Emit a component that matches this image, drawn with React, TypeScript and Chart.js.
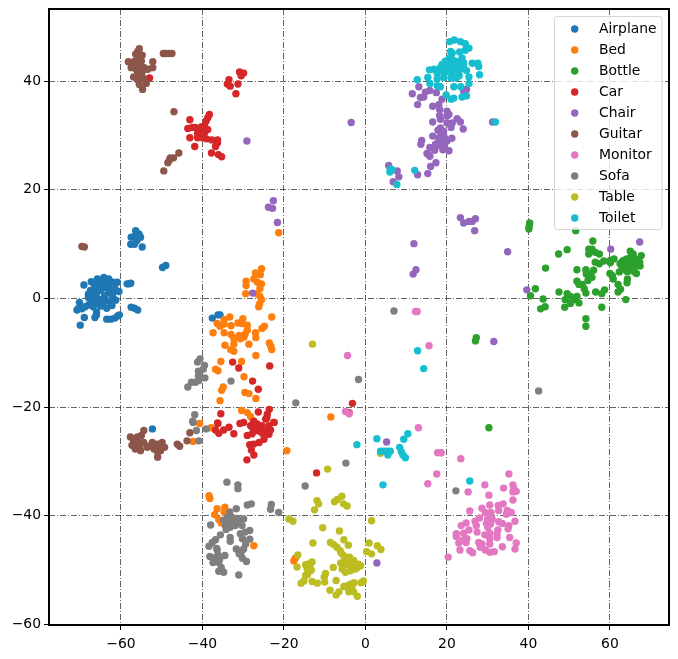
import { useEffect, useRef } from "react"
import { Chart, registerables } from "chart.js"

Chart.register(...registerables)

type Pt = [number, number]

const labels = ["Airplane", "Bed", "Bottle", "Car", "Chair", "Guitar", "Monitor", "Sofa", "Table", "Toilet"]
const colors = ["#1f77b4", "#ff7f0e", "#2ca02c", "#d62728", "#9467bd", "#8c564b", "#e377c2", "#7f7f7f", "#bcbd22", "#17becf"]
const xTicks = [-60, -40, -20, 0, 20, 40, 60]
const yTicks = [-60, -40, -20, 0, 20, 40]

const airplane: Pt[] = [
  [-69.1, 2.5], [-67.3, 3.1], [-65.8, 3.6], [-64.2, 3.9], [-63.5, 3.2], [-64.8, 2.8], [-66, 2], [-67.5, 1.5], [-68, 0.8], [-66.5, 0.7],
  [-65, 1.5], [-64, 2], [-63, 2.5], [-62, 3], [-60.9, 3], [-61.5, 1.8], [-62.8, 1], [-64, 0.5], [-65.5, -0.1], [-67, -0.3],
  [-68, 0.2], [-66, -0.8], [-64.5, -0.3], [-63, -0.5], [-62, 0.2], [-60.5, 1.3], [-58.5, 2.7], [-58, 2.7], [-57.6, 2.8], [-61.3, -0.3],
  [-70.2, -0.7], [-70.4, -1.8], [-70.8, -2.1], [-69.6, -1.9], [-68.8, -1.5], [-67.5, -1], [-65, -1.4], [-63.5, -1.8], [-62.2, -1.3], [-66, -2.5],
  [-66, -3], [-66.4, -3.5], [-69, -3.5], [-70, -4.9], [-63.5, -3.8], [-62.5, -3.8], [-61.5, -3.6], [-60.8, -3.2], [-60.4, -3],
  [-66.5, 2.5], [-65, 3], [-63, 1.5], [-66, 1], [-64.5, -1], [-67.5, 0.2], [-68, -1.2], [-63, 3.6], [-62, 1], [-66.8, -1.5],
  [-56.4, 12.5], [-55.6, 11.9], [-55.2, 11.3], [-57.5, 11.3], [-57.6, 10], [-56.7, 10], [-54.8, 9.5], [-56.1, 10.7], [-56.5, 11.5], [-56, 11],
  [-49, 6.1], [-49.8, 5.7], [-57.5, -1.6], [-56.7, -1.8], [-55.9, -2.1], [-37.6, -3.6], [-36.2, -3], [-35.7, -3], [-52.3, -24],
]

const bed: Pt[] = [
  [-21.3, 12.1], [-25.5, 5.5], [-27, 4.7], [-25.8, 4.4], [-27.4, 3.6], [-29.3, 3.2], [-29.3, 2.4], [-26.5, 3], [-25.5, 2.7], [-25.9, 1.8],
  [-29.4, 0.9], [-26.6, 0.9], [-25.9, 0.4], [-25.5, -0.2], [-26, -1], [-26.2, -1.5], [-23, -3.4], [-33.3, -3.4], [-34.7, -3.9], [-36.4, -4.6],
  [-35.7, -5.1], [-34.7, -4.7], [-33, -5], [-31.3, -4.5], [-30.1, -3.7], [-30.3, -4.6], [-29, -4.9], [-29, -5.8], [-24.8, -5.1], [-25.4, -5.5],
  [-37.4, -6.3], [-34.7, -6.3], [-33, -6.6], [-31, -6.8], [-29.5, -6.5], [-27, -6.3], [-26.9, -7.2], [-32.3, -7.4], [-30.7, -7.4], [-31.5, -7.2],
  [-29.8, -7.1], [-32.3, -8.4], [-28.6, -8.4], [-34.5, -8.6], [-33.1, -9.4], [-32.3, -9.7], [-23.6, -8.2], [-23.2, -8.8], [-23, -9.4], [-26.9, -10.5],
  [-35.5, -11.6], [-30.4, -11.6], [-36.8, -13], [-36.2, -13.3], [-29.8, -14.4], [-34.9, -16.3], [-35.3, -16.9], [-29.6, -17.3], [-28.6, -17.5], [-26.9, -18.4],
  [-35.7, -18.8], [-30.4, -20.6], [-29, -21], [-28.2, -21.7], [-27.6, -22.5], [-40.7, -23], [-37.9, -23.8], [-42.3, -26.3], [-19.3, -28], [-38.4, -36.3],
  [-38.2, -36.8], [-34.5, -38.4], [-34.7, -39.3], [-36.4, -38.7], [-37, -39.8], [-36, -40.7], [-35.4, -41.3], [-27.4, -45.5], [-17.6, -48.3], [-17.2, -47.8],
  [-8.5, -21.8],
]

const bottle: Pt[] = [
  [40.3, 13.9], [40.2, 13.3], [40.1, 12.8], [51.6, 12.5], [55.8, 10.6], [49.5, 9], [47.4, 8.2], [54.8, 9.1], [55.6, 9.1], [54.8, 8.2],
  [56.4, 8.5], [57.4, 8.2], [56.4, 6.7], [57.4, 6.4], [58.5, 6.9], [60.1, 7], [61, 7.3], [60.1, 6.6], [65, 8.7], [65.5, 8.2],
  [67.7, 7.9], [44.2, 5.6], [51.9, 5.3], [54.1, 5.3], [56, 5.2], [55.2, 4.5], [54.2, 4.5], [54.8, 3.9], [55.6, 3.9], [54.6, 3.3],
  [60, 4.6], [60.6, 4.2], [60.8, 3.6], [62.3, 4.9], [51.9, 3.2], [52.4, 2.6], [53.2, 2.6], [53.7, 1.8], [54.1, 1], [64.3, 3.6],
  [64.2, 2.9], [62, 2.6], [62.6, 1.7], [62, 1.2], [41.7, 1.8], [40.5, 0.5], [43.6, -0.1], [44.1, -1.5], [43, -1.9], [47.5, 1.2],
  [49.5, 0.9], [50.3, 0.4], [49, -0.2], [50.3, -0.9], [51.9, 0.4], [51.5, -0.2], [52.4, -0.8], [48.9, -1.6], [56.5, 1.2], [58.7, 1.6],
  [58, 0.9], [58, -1.6], [63.9, -0.2], [54.1, -3.7], [54.1, -5.1], [27.2, -7.2], [27, -7.8], [30.3, -23.8], [62.5, 6.4], [63.3, 7],
  [64.1, 7.3], [65.7, 8.2], [66.2, 7.3], [67.3, 6.7], [67.4, 6], [64.5, 5.8], [63.7, 6], [64.9, 6.7], [63, 6.8], [65.3, 6],
  [64.1, 5], [66.1, 4.9], [66.5, 4.6], [65, 5.3], [63, 5.6], [64.5, 6.2], [65.5, 7], [64, 6.5], [66, 6], [65, 7.5], [64.5, 5],
]

const car: Pt[] = [
  [-53, 40.6], [-30.9, 41.7], [-29.9, 41.5], [-30.5, 41], [-33.5, 40.3], [-31.3, 39.5], [-33.9, 39.5], [-33.2, 39.1], [-31.8, 37.7],
  [-38.3, 33.9], [-38.7, 33.3], [-39.1, 32.7], [-39.5, 31.8], [-43.1, 32.9], [-43.6, 31.3], [-42.5, 31.5], [-41.8, 31.5], [-40.8, 30.8], [-40.3, 31.6], [-41.2, 30.4],
  [-39.5, 30.5], [-38.7, 31.1], [-41.2, 29.6], [-40, 29.6], [-39, 29.4], [-37.7, 29.2], [-36.3, 29.2], [-36.3, 28.7], [-43.1, 29.6], [-41.9, 28],
  [-36.8, 28], [-37.8, 26.8], [-36.1, 26.5], [-35.3, 26.1], [-32.6, -11.7], [-31.1, -12.8], [-23.5, -12.4], [-27.7, -15.2], [-26.3, -16.7], [-23.6, -20.4],
  [-26.3, -20.9], [-35.5, -21.2], [-36.3, -22.9], [-24.2, -22], [-30.8, -23], [-22.4, -22.8], [-27.4, -22.6], [-36.2, -23], [-36.8, -24.2], [-36, -24.8],
  [-34.8, -24.2], [-33.5, -23.7], [-32.3, -24.9], [-29.9, -22.8], [-28.2, -23.4], [-26.6, -23.1], [-25.4, -23.4], [-23.3, -24.2], [-22.5, -22.8], [-23.7, -23.4],
  [-29, -25.2], [-27.8, -24.9], [-27, -24.3], [-24.9, -25.9], [-26.1, -26.5], [-27.4, -26.8], [-28.4, -26.9], [-28, -27.9], [-27.4, -28.8], [-29.1, -29.7],
  [-25.8, -24.5], [-24.5, -24.4], [-25.3, -24.8], [-26.6, -24.3], [-27.8, -23.7], [-23.7, -25], [-24.1, -21.3], [-24.5, -22.2],
  [-12, -32.1], [-3.2, -19.3], [-4, -21],
]

const chair: Pt[] = [
  [11.5, 37.7], [13.1, 39], [12.8, 35.7], [13.5, 37], [14.3, 37.1], [14.7, 38], [15.8, 38.3], [17.4, 37.9], [18.8, 36.7], [16.5, 35.4],
  [18, 35.7], [18.2, 34.8], [18.2, 33.7], [18.4, 33], [20, 34.5], [20.5, 33.9], [20, 33.6], [16.5, 32.5], [22.5, 33.1], [23.3, 32.5],
  [24, 31.2], [21.3, 32.3], [20, 32.3], [21, 31.5], [18.4, 31.4], [17.8, 31], [19.2, 30.8], [16.5, 29.9], [21.2, 29.5], [18.8, 29.8],
  [19.2, 28.9], [18, 28.9], [17.2, 28.4], [18.4, 28.3], [19.4, 28], [13.8, 29.1], [13.6, 28.4], [15.8, 27.8], [17, 27.3], [19, 27.4],
  [20.5, 27.2], [15.1, 26.7], [15.8, 26.2], [15.5, 26.5], [17.3, 25], [16, 24.3], [5.7, 24.5], [7.8, 23.5], [8.2, 22.4], [6.8, 21.5],
  [18.5, 30], [19.5, 29.5], [18, 29.5], [18.5, 28.7], [20, 29], [17.8, 28.2],
  [12.8, 22.8], [15.3, 23], [31.2, 32.5], [24.8, 38.5], [24.1, 38.2], [-29.1, 29], [-3.5, 32.4], [-23.8, 16.8], [-22.6, 18], [-22.8, 16.6],
  [-21.6, 14], [-27.7, 1], [23.3, 14.9], [24.1, 13.9], [25.4, 14.2], [26.2, 14.2], [27, 14.7], [26.8, 12.5], [11.9, 10.1], [12.4, 5.3],
  [11.7, 4.5], [34.9, 8.6], [39.6, 1.6], [60.2, 9.1], [67.3, 10.4], [31.5, -7.9], [5.2, -26.4], [2.8, -48.7],
]

const guitar: Pt[] = [
  [-55.5, 46], [-55.9, 45.5], [-56.4, 45], [-55.5, 44.6], [-55.9, 44], [-58.2, 43.6], [-56.7, 43.7], [-55, 43.7], [-57.1, 42.8], [-55.5, 42.8],
  [-57.5, 42.5], [-56.3, 42.2], [-54.3, 42.5], [-52.2, 43.6], [-52.2, 42.5], [-55.9, 41.6], [-54.7, 41.9], [-53.4, 42.2], [-56.9, 40.8], [-55.1, 40.7],
  [-56, 43], [-55, 41.3], [-56, 40.3], [-54.5, 40.5], [-55.5, 41], [-54.8, 44.8],
  [-55.5, 39.4], [-53.8, 39.6], [-54.7, 38.5], [-49.6, 45.1], [-49, 45.1], [-48.3, 45.1], [-47.5, 45.1], [-47, 34.4], [-45.8, 26.8], [-47.1, 25.9],
  [-47.9, 25.9], [-48.1, 25.5], [-48.5, 25], [-49.5, 23.5], [-69.6, 9.6], [-69, 9.5], [-57.7, -25.5], [-56.9, -26.1], [-57.3, -27], [-56.5, -27.7],
  [-55.2, -28], [-54.4, -24.3], [-55, -25.2], [-56, -25.5], [-55.6, -26.5], [-54.4, -26.5], [-53.6, -27.4], [-52.3, -26.5], [-51, -26.8], [-49.9, -26.5],
  [-49.3, -27.4], [-50.3, -28], [-51.9, -27.7], [-51, -29.2], [-51, -28.3], [-53, -27.2], [-56.5, -26.8], [-55.5, -27.2], [-50.5, -27.2], [-52, -27],
  [-46.2, -26.8], [-45.6, -27.2], [-43.1, -24.7], [-43.8, -26.2],
]

const monitor: Pt[] = [
  [12.3, -2.4], [12.7, -2.4], [15.6, -8.7], [13, -23.8], [17.7, -28.4], [18.6, -28.4], [23.4, -29.5], [17.5, -32.3], [15.3, -34.1], [35.2, -32.3],
  [29.3, -34.3], [33.9, -34.9], [36.2, -34.3], [36.4, -34.9], [37, -35.5], [36.2, -35.6], [25.2, -35.6], [30.3, -36.2], [36.2, -37.1], [30.5, -38],
  [33.8, -37.8], [32.6, -38.1], [28.6, -38.6], [25.6, -39.1], [32.7, -39], [29.4, -39.4], [30.8, -39.4], [34.8, -39], [35.8, -39.4], [34.6, -39.7],
  [28, -40.4], [26.9, -41], [30, -40.6], [31.1, -40.6], [29.7, -41.4], [30.7, -41.5], [32.7, -41.1], [33.6, -41.4], [36.7, -41], [24.7, -41.3],
  [23.5, -41.8], [27.2, -41.8], [30, -42.1], [35.2, -41.8], [35, -42.4], [25.4, -42.6], [27.4, -43], [32.5, -42.6], [32.3, -43.3], [29.3, -43.5],
  [30.5, -43.2], [22.3, -43.3], [22.3, -43.8], [24.1, -43.2], [24.9, -44.2], [32.3, -44], [35.4, -44], [30.5, -44.2], [23.9, -44.5], [22.9, -45],
  [24.7, -44.9], [27.8, -44.9], [28.6, -45.2], [30.5, -45.2], [37, -45], [33.6, -45.7], [28.2, -45.8], [36.7, -46.1], [23.2, -46.3], [25.6, -46.4],
  [26.3, -46.8], [29.4, -46.3], [30.5, -46.7], [31.6, -46.6], [20.3, -47.6], [-4.4, -10.5], [-4.9, -20.8], [-4, -21.2],
]

const sofa: Pt[] = [
  [-40.6, -11.1], [-41.2, -11.7], [-39.5, -12.3], [-39.8, -13], [-41, -13.4], [-41, -14.2], [-39.4, -14.6], [-40.9, -15.1], [-41.7, -15.4], [-42.7, -15.4],
  [-43.6, -16.3], [-33, -15.2], [-17.1, -19.2], [-41.9, -21.4], [-42.4, -22.6], [-41.5, -24.3], [-39.1, -24], [-42.3, -22.8], [-40.9, -26.2], [-4.8, -30.3],
  [-14.8, -34.5], [-34, -33.8], [-31.3, -34.3], [-31.3, -35], [-28, -37.8], [-29, -38], [-23.1, -37.9], [-23.3, -38.8], [-21.3, -39.4], [-31.7, -38.7],
  [-33.3, -39.3], [-33.9, -40.3], [-32.7, -40.3], [-31.5, -40.5], [-29.9, -40.6], [-38, -41.7], [-34.4, -41.8], [-33.2, -42.1], [-32, -41.8], [-30.3, -41.8],
  [-28.4, -42.7], [-30.7, -43.3], [-35.6, -43.5], [-36.8, -44.4], [-37.6, -44.9], [-38.4, -45.6], [-33.2, -44], [-33.2, -44.7], [-28.4, -44.3], [-29.4, -45.2],
  [-29.9, -46.1], [-31.7, -46.1], [-30.5, -46.7], [-36.4, -46.3], [-34.5, -47.3], [-38.2, -47.5], [-36.8, -47.7], [-30.2, -47.8], [-29.2, -48.4], [-37.4, -48.6],
  [-36, -48.6], [-35.4, -49.5], [-36, -50.2], [-34.8, -50.4], [-31.1, -50.9], [42.5, -17], [22.2, -35.4], [7, -2.3], [-1.7, -14.9],
  [-34.8, -40.8], [-33.5, -41], [-32.5, -41.2], [-31, -41.2], [-34.2, -42.5], [-29.5, -43], [-30.2, -44.2], [-31, -47], [-36.2, -47.2], [-35.8, -48], [-36.5, -46],
]

const table: Pt[] = [
  [-13, -8.4], [3.7, -28.5], [-9.3, -31.4], [-11.9, -37.2], [-11.5, -37.8], [-12.5, -38.9], [-5.8, -36.4], [-6.9, -37], [-7.6, -37.4], [-5.4, -37.8],
  [-4.5, -38.2], [1.5, -40.9], [-18.8, -40.6], [-17.8, -41], [-10.5, -42.2], [-6.4, -42.8], [-12.9, -45], [-5.3, -44.4], [-8.6, -44.9], [-7.8, -45.3],
  [-4.2, -45.4], [-7, -45.8], [-6.2, -46.4], [0.9, -45], [2.9, -45.5], [3.8, -46.2], [0.3, -46.6], [1.5, -47], [-16.6, -47.2], [-5.4, -47.3],
  [-3.9, -47.6], [-16.8, -49.4], [-14.7, -49], [-13.1, -48.5], [-14.3, -49.8], [-13.6, -49.5], [-14.7, -51], [-13.3, -50], [-7.9, -49.5], [-6.1, -48.7],
  [-5.7, -49.8], [-4.1, -48.2], [-2.9, -48.2], [-1.7, -48.9], [-1.2, -49.2], [-2.5, -49.8], [-3.7, -50.1], [-4.9, -50.4], [-9.8, -50.6], [-10.1, -51.3],
  [-7.2, -51.9], [-10, -52.2], [-13.1, -52.1], [-11.8, -52.4], [-15.1, -52], [-15.8, -52.4], [-0.5, -52], [-1.1, -52.3], [-2.8, -52.3], [-3.7, -52.6],
  [-5.3, -53], [-4.5, -52.9], [-3.7, -53.5], [-8.7, -53.7], [-4.1, -54], [-2.9, -54], [-6.5, -54], [-7.2, -54.6], [-2, -54.8],
  [-14, -50.3], [-13.8, -48.8], [-4.5, -49], [-3, -49], [-5, -47.8], [-2, -49.5], [-6, -46.8], [-4, -53.2], [-3.2, -52.8], [-14.2, -50.8], [-5.5, -49],
]

const toilet: Pt[] = [
  [21.8, 47.6], [20.7, 47.3], [23.3, 47.3], [24.5, 46.9], [25.4, 46.1], [24.5, 45.7], [20.9, 45.5], [21.3, 45.2], [23.1, 45.4], [20.6, 44.3],
  [23.7, 44.3], [19.6, 43.7], [18.8, 43.1], [21.3, 44], [22.1, 43.7], [23.3, 43.7], [20.9, 43.1], [22.5, 43.1], [24.1, 43.4], [26.2, 43.3],
  [27.6, 43.3], [27.8, 42.7], [18.4, 42.5], [20, 42.5], [21.7, 42.5], [23.3, 42.2], [24.8, 42], [15.7, 42.1], [16.8, 42.2], [17.6, 41.5],
  [19.2, 41.6], [21.3, 41.6], [28, 41.2], [25.4, 40.8], [15.3, 40.7], [12.7, 40.3], [17.6, 40.4], [19.2, 40.7], [22.3, 40.6], [15.8, 39.6],
  [21, 43.8], [22.5, 42.2], [20, 41.8], [19.5, 42.8], [23, 41], [21, 40.6], [24, 42.8],
  [25.4, 39.6], [17.6, 39.2], [18.4, 39], [21.7, 39], [23.4, 39], [19.8, 37.5], [21, 36.7], [21.7, 36.9], [23.7, 37.1], [24.8, 37.3],
  [31.9, 32.5], [6.1, 23.8], [6, 23.3], [6.5, 23.7], [12.1, 23.6], [7.7, 21], [12.8, -9.6], [14.3, -12.9], [10.4, -24.9], [9.4, -25.9],
  [25.6, -33.6], [-2.1, -26.9], [2.8, -25.8], [3.7, -28.1], [4.5, -28.1], [5.3, -28.1], [6.1, -28.1], [5.5, -28.8], [8.4, -27.4], [8.8, -28.2],
  [9.2, -28.8], [9.8, -29.3], [4.3, -34.3],
]

const seriesData = [airplane, bed, bottle, car, chair, guitar, monitor, sofa, table, toilet]

const fontFamily = "'DejaVu Sans'"
const fontSize = 13.9

// matplotlib style legend box and the frame round the axes
const framePlugin = {
  id: "frame",
  afterDatasetsDraw(chart: Chart) {
    const { ctx, chartArea } = chart
    ctx.save()
    ctx.beginPath()
    ctx.roundRect(554.5, 16.5, 107.5, 213, 3)
    ctx.fillStyle = "rgba(255,255,255,0.8)"
    ctx.fill()
    ctx.strokeStyle = "rgba(204,204,204,0.8)"
    ctx.lineWidth = 1
    ctx.stroke()
    ctx.font = `${fontSize}px ${fontFamily}`
    ctx.textBaseline = "middle"
    chart.data.datasets.forEach((ds, i) => {
      const y = 29 + i * 21
      ctx.beginPath()
      ctx.arc(574.7, y, 3.7, 0, Math.PI * 2)
      ctx.fillStyle = ds.backgroundColor as string
      ctx.fill()
      ctx.fillStyle = "#000"
      ctx.fillText(ds.label as string, 599, y)
    })
    ctx.strokeStyle = "#000"
    ctx.lineWidth = 2
    ctx.strokeRect(chartArea.left, chartArea.top, chartArea.width, chartArea.height)
    ctx.restore()
  },
}

export default function App() {
  const chartRef = useRef<HTMLCanvasElement>(null)

  useEffect(() => {
    if (!chartRef.current) return
    document.body.style.margin = "0"

    const axisCommon = {
      grid: {
        color: "#222",
        lineWidth: 0.7,
        tickColor: "#000",
        tickBorderDash: [],
        tickLength: 5,
        tickWidth: 1,
      },
      border: { display: false, dash: [6, 2, 1, 2] },
      ticks: {
        autoSkip: false,
        maxRotation: 0,
        color: "#000",
        padding: 3,
        font: { family: fontFamily, size: fontSize },
        callback: (v: any) => String(v).replace("-", "\u2212"),
      },
    }

    const chart = new Chart(chartRef.current, {
      type: "scatter",
      data: {
        datasets: labels.map((label, i) => ({
          label,
          data: seriesData[i].map(([x, y]) => ({ x, y })),
          backgroundColor: colors[i],
          borderWidth: 0,
          pointRadius: 3.7,
          order: -i, // later classes paint on top
        })),
      },
      options: {
        animation: false,
        responsive: false,
        layout: { padding: { top: 9, right: 9, left: 0, bottom: 0 } },
        scales: {
          x: {
            ...axisCommon,
            ticks: { ...axisCommon.ticks, padding: 6 },
            type: "linear",
            min: -77.67,
            max: 74.5,
            afterBuildTicks: (axis: any) => {
              axis.ticks = xTicks.map((value) => ({ value }))
            },
            afterFit: (axis: any) => {
              axis.height = 34
              axis.paddingLeft = 0
              axis.paddingRight = 0
            },
          },
          y: {
            ...axisCommon,
            type: "linear",
            min: -60.1,
            max: 53.3,
            afterBuildTicks: (axis: any) => {
              axis.ticks = yTicks.map((value) => ({ value }))
            },
            afterFit: (axis: any) => {
              axis.width = 49
              axis.paddingTop = 0
              axis.paddingBottom = 0
            },
          },
        },
        plugins: {
          legend: { display: false },
          tooltip: { enabled: false },
        },
      } as any,
      plugins: [framePlugin],
    })

    return () => chart.destroy()
  }, [])

  return (
    <div style={{ width: 678, height: 659 }}>
      <canvas ref={chartRef} width={678} height={659} style={{ display: "block" }} />
    </div>
  )
}
